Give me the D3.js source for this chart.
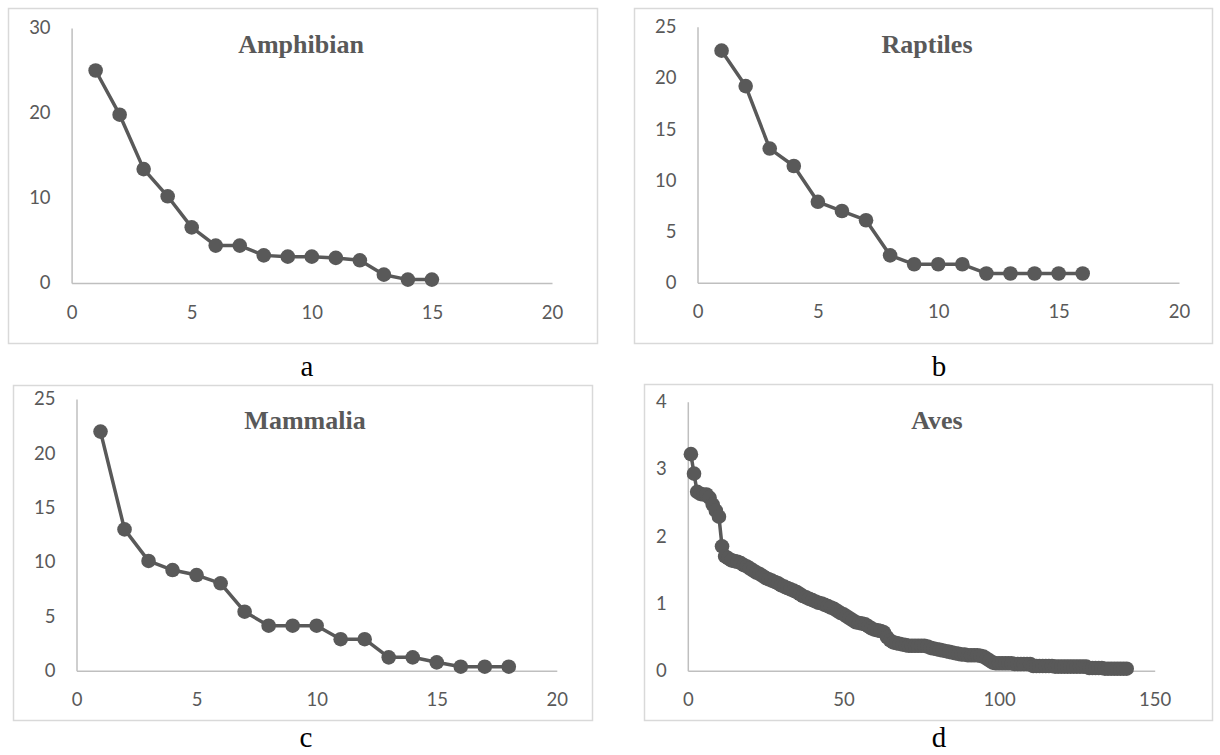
<!DOCTYPE html>
<html>
<head>
<meta charset="utf-8">
<script src="https://cdn.jsdelivr.net/npm/d3@7"></script>
<style>
  html, body { margin: 0; padding: 0; background: #fff; }
  svg { display: block; }
</style>
</head>
<body>
<svg id="chart" width="1220" height="755"></svg>
<script>
// ---- Data ----
const amphibianValues = [25.0, 19.8, 13.4, 10.2, 6.55, 4.4, 4.4, 3.25, 3.1, 3.1, 2.95, 2.67, 0.98, 0.4, 0.4];
const raptilesValues  = [22.66, 19.2, 13.1, 11.4, 7.9, 7.0, 6.1, 2.67, 1.8, 1.8, 1.8, 0.9, 0.9, 0.9, 0.9, 0.9];
const mammaliaValues  = [22.0, 13.0, 10.1, 9.26, 8.8, 8.04, 5.43, 4.14, 4.14, 4.14, 2.9, 2.9, 1.23, 1.23, 0.77, 0.37, 0.37, 0.37];
const avesValues = [
  3.22, 2.93, 2.66, 2.63, 2.62, 2.62, 2.57, 2.47, 2.38, 2.29,
  1.85, 1.70, 1.67, 1.64, 1.63, 1.62, 1.60, 1.57, 1.55, 1.52,
  1.49, 1.46, 1.44, 1.41, 1.38, 1.36, 1.34, 1.32, 1.30, 1.27,
  1.25, 1.23, 1.21, 1.19, 1.17, 1.14, 1.11, 1.09, 1.07, 1.05,
  1.03, 1.01, 1.00, 0.98, 0.96, 0.94, 0.92, 0.89, 0.86, 0.84,
  0.81, 0.78, 0.75, 0.72, 0.71, 0.70, 0.69, 0.66, 0.63, 0.61,
  0.60, 0.59, 0.57, 0.50, 0.45, 0.42, 0.41, 0.40, 0.39, 0.38,
  0.37, 0.37, 0.37, 0.37, 0.37, 0.37, 0.36, 0.34, 0.33, 0.32,
  0.31, 0.30, 0.29, 0.28, 0.27, 0.26, 0.25, 0.24, 0.24, 0.23,
  0.23, 0.23, 0.23, 0.22, 0.21, 0.18, 0.15, 0.12, 0.11, 0.11,
  0.11, 0.11, 0.11, 0.11, 0.10, 0.10, 0.10, 0.10, 0.10, 0.10,
  0.07, 0.07, 0.07, 0.07, 0.07, 0.07, 0.07, 0.06, 0.06, 0.06,
  0.06, 0.06, 0.06, 0.06, 0.06, 0.06, 0.06, 0.06, 0.04, 0.04,
  0.04, 0.04, 0.04, 0.03, 0.03, 0.03, 0.03, 0.03, 0.03, 0.03,
  0.03
];

const panelTitles   = ["Amphibian", "Raptiles", "Mammalia", "Aves"];
const panelCaptions = ["a", "b", "c", "d"];
const xTicksSmall = [0, 5, 10, 15, 20];
const xTicksAves  = [0, 50, 100, 150];
const yTicksAmph  = [0, 10, 20, 30];
const yTicks25    = [0, 5, 10, 15, 20, 25];
const yTicksAves  = [0, 1, 2, 3, 4];

// ---- Layout ----
const panels = [
  { values: amphibianValues, title: panelTitles[0], caption: panelCaptions[0],
    frame: [8, 8, 589, 335], xr: [71.6, 552], yr: [283, 28], xd: [0, 20], yd: [0, 30],
    xt: xTicksSmall, yt: yTicksAmph, tpos: [301, 53], cpos: [307, 376] },
  { values: raptilesValues, title: panelTitles[1], caption: panelCaptions[1],
    frame: [634, 8, 578, 335], xr: [697.5, 1179], yr: [282.7, 26.7], xd: [0, 20], yd: [0, 25],
    xt: xTicksSmall, yt: yTicks25, tpos: [927, 53], cpos: [939, 376] },
  { values: mammaliaValues, title: panelTitles[2], caption: panelCaptions[2],
    frame: [13, 385, 579, 335], xr: [76.5, 556.8], yr: [670.7, 399], xd: [0, 20], yd: [0, 25],
    xt: xTicksSmall, yt: yTicks25, tpos: [305, 429], cpos: [306, 747] },
  { values: avesValues, title: panelTitles[3], caption: panelCaptions[3],
    frame: [644, 384, 568, 336], xr: [687.8, 1154.7], yr: [670.7, 401.7], xd: [0, 150], yd: [0, 4],
    xt: xTicksAves, yt: yTicksAves, tpos: [937, 429], cpos: [939, 747] }
];

const svg = d3.select("#chart");
const markColor = "#595959";
const textColor = "#595959";

panels.forEach(p => {
  const g = svg.append("g");
  const [fx, fy, fw, fh] = p.frame;
  g.append("rect").attr("x", fx + 0.5).attr("y", fy + 0.5).attr("width", fw).attr("height", fh)
    .attr("fill", "#fff").attr("stroke", "#d9d9d9").attr("stroke-width", 1.5);

  const x = d3.scaleLinear().domain(p.xd).range(p.xr);
  const y = d3.scaleLinear().domain(p.yd).range(p.yr);

  const xAxis = g.append("g").attr("transform", `translate(0,${p.yr[0]})`)
    .call(d3.axisBottom(x).tickValues(p.xt).tickSize(0).tickSizeOuter(0).tickPadding(22.5).tickFormat(d3.format("d")));
  const yAxis = g.append("g").attr("transform", `translate(${p.xr[0]},0)`)
    .call(d3.axisLeft(y).tickValues(p.yt).tickSize(0).tickSizeOuter(0).tickPadding(21).tickFormat(d3.format("d")));
  [xAxis, yAxis].forEach(a => {
    a.select(".domain").attr("stroke", "#bfbfbf").attr("stroke-width", 1.5);
    a.selectAll("text").attr("fill", textColor).style("font-family", "Lato, 'Open Sans', sans-serif").style("font-size", "18.5px");
  });

  const pts = p.values.map((v, i) => ({ x: i + 1, y: v }));
  g.append("path").datum(pts)
    .attr("fill", "none").attr("stroke", markColor).attr("stroke-width", 3.5).attr("stroke-linejoin", "round")
    .attr("d", d3.line().x(d => x(d.x)).y(d => y(d.y)));
  g.selectAll("circle.pt").data(pts).join("circle").attr("class", "pt")
    .attr("cx", d => x(d.x)).attr("cy", d => y(d.y)).attr("r", 7.3).attr("fill", markColor);

  g.append("text").attr("x", p.tpos[0]).attr("y", p.tpos[1]).attr("text-anchor", "middle")
    .style("font-family", "'Liberation Serif', 'Times New Roman', serif").style("font-weight", "bold")
    .style("font-size", "26px").attr("fill", textColor).text(p.title);

  svg.append("text").attr("x", p.cpos[0]).attr("y", p.cpos[1]).attr("text-anchor", "middle")
    .style("font-family", "'Liberation Serif', 'Times New Roman', serif")
    .style("font-size", "29px").attr("fill", "#000").text(p.caption);
});
</script>
</body>
</html>
